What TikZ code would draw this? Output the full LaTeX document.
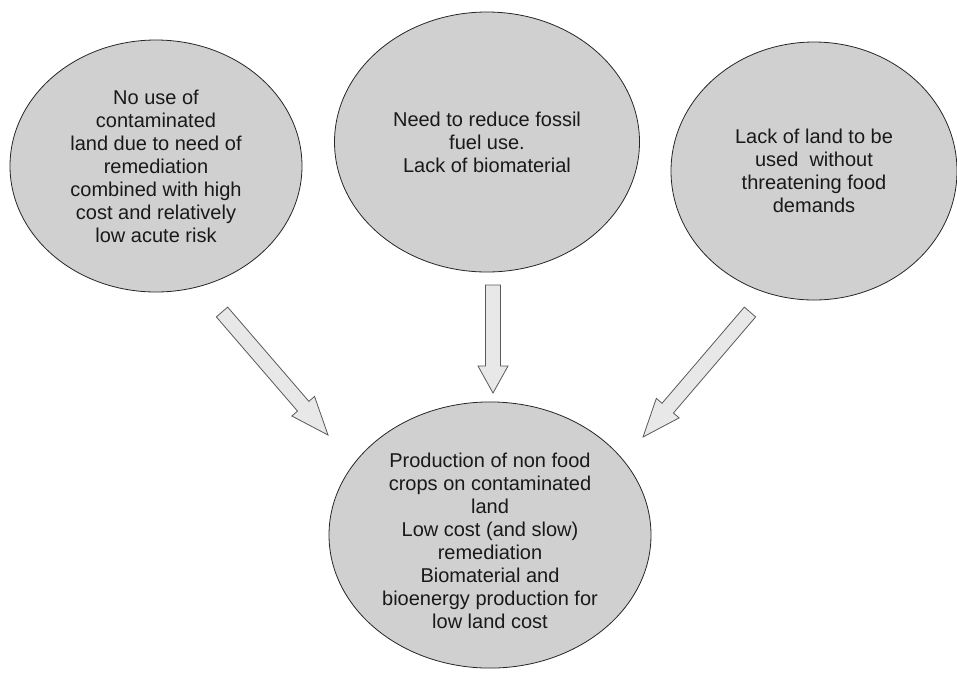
\documentclass[tikz,border=0pt]{standalone}
\usepackage{fontspec}
\setmainfont{Liberation Sans}
\usetikzlibrary{shapes.geometric,calc}

\definecolor{ellgray}{RGB}{208,208,208}
\definecolor{arrgray}{RGB}{232,232,232}

\tikzset{
  bubble/.style={ellipse, draw=black!85, fill=ellgray, line width=0.8pt,
    inner sep=0pt, align=center, text=black!90,
    font=\fontsize{20}{23}\selectfont},
  blockarrow/.style={draw=black!65, fill=arrgray, line width=0.8pt}
}

% block arrow from #1 (tail) to #2 (tip), head length #3
\newcommand{\blkarrow}[3]{
  \coordinate (hb) at ($(#2)!#3!(#1)$);
  \draw[blockarrow] ($(#1)!7.5pt!90:(#2)$)
     -- ($(hb)!7.5pt!90:(#2)$) -- ($(hb)!15pt!90:(#2)$)
     -- (#2)
     -- ($(hb)!15pt!-90:(#2)$) -- ($(hb)!7.5pt!-90:(#2)$)
     -- ($(#1)!7.5pt!-90:(#2)$) -- cycle;
}

\begin{document}
\begin{tikzpicture}[x=1pt, y=-1pt]
    \useasboundingbox (0, 0) rectangle (957, 673);

    \node[bubble, minimum width=292pt, minimum height=252pt] (landuse) at (156, 166)
      {No use of\\contaminated\\land due to need of\\remediation\\combined with high\\cost and relatively\\low acute risk};
    \node[bubble, minimum width=305pt, minimum height=260pt] (fossil) at (487, 142)
      {Need to reduce fossil\\fuel use.\\Lack of biomaterial};
    \node[bubble, minimum width=286pt, minimum height=258pt] (food) at (814, 171)
      {Lack of land to be\\used\ \ without\\threatening food\\demands};
    \node[bubble, minimum width=322pt, minimum height=264pt] (crops) at (490, 535)
      {\rule{0pt}{27pt}Production of non food\\crops on contaminated\\land\\Low cost (and slow)\\remediation\\Biomaterial and\\bioenergy production for\\low land cost};

    \coordinate (landuse tail) at (222, 312);
    \coordinate (landuse tip) at (328, 435);
    \coordinate (fossil tail) at (493, 285);
    \coordinate (fossil tip) at (493, 393);
    \coordinate (food tail) at (750, 312);
    \coordinate (food tip) at (643, 437);

    \blkarrow{landuse tail}{landuse tip}{38pt}
    \blkarrow{fossil tail}{fossil tip}{27pt}
    \blkarrow{food tail}{food tip}{38pt}
\end{tikzpicture}
\end{document}
